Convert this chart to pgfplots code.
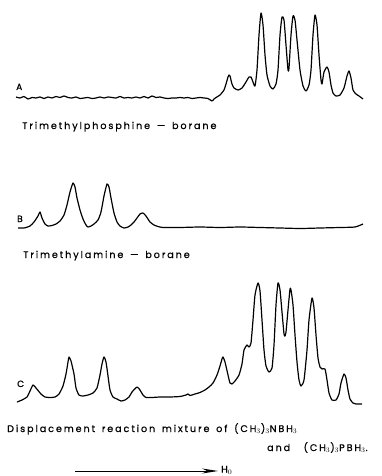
\documentclass[border=0pt]{standalone}
\usepackage{fontspec}
\setmainfont{Poppins}[LetterSpace=20.0, WordSpace=1.5, FakeBold=0.6]
\usepackage{pgfplots}
\pgfplotsset{compat=1.18}
\usetikzlibrary{arrows.meta}
\begin{document}
\begin{tikzpicture}
\begin{axis}[
  width=382pt, height=476pt, scale only axis,
  xmin=0, xmax=382, ymin=0, ymax=476, y dir=reverse,
  hide axis, clip=false,
]
\path (rel axis cs:0,0) rectangle (rel axis cs:1,1);
\pgfplotsset{spec/.style={black, no markers, line width=1.2pt, smooth, tension=0.35, line join=round}}
% Spectrum A
\addplot[spec] coordinates {
(16,97)(20,98)(24,96.5)(28,99)(32,97.5)(36,98)(40,97)(44,98.5)(48,97)(52,98)(56,96.5)(60,97.5)(64,96)(68,97.5)(72,98)(76,97)(80,98.5)(84,98)(88,97.5)(92,98.5)(96,98)(100,97)(104,98)(108,97)(112,97.5)(116,98)(120,96.5)(124,98)(128,97.5)(132,98)(136,97)(140,98)(144,96.5)(148,98)(152,96)(156,97.5)(160,97)(164,98)(168,98.5)(172,98)(176,98)(180,97.5)(184,98)(188,97.5)(192,98.5)(196,98)(200,97.5)(204,98)(208,98.5)(212,101)(214,99)(216,97.5)(220,95)(224,90)(226,84)(228,77)(229,75)(230,76)(232,84)(234,88)(238,90)(242,88)(246,82)(249,77)(251,77)(253,82)(255,86)(257,70)(259,35)(261,13)(263,25)(265,55)(267,75)(270,86)(273,89)(276,84)(278,70)(280,35)(282,17)(284,20)(286,45)(288,70)(289,68)(291,35)(293,16)(295,20)(297,40)(300,70)(303,86)(306,91)(309,85)(311,70)(313,35)(315,15)(317,25)(319,55)(321,80)(322,84)(324,72)(327,67)(329,72)(331,85)(333,93)(336,96)(340,95)(344,88)(347,76)(349,71)(351,78)(353,90)(356,94)(359,96)(363,99)
};
% Spectrum B
\addplot[spec] coordinates {
(18,228)(24,228)(30,226)(34,222)(38,216)(40,212)(42,218)(45,224)(48,226)(52,225.5)(56,224)(60,221)(64,215)(67,205)(70,192)(73,183)(75,187)(77,198)(80,210)(83,219)(86,225)(88,227)(91,226)(94,224)(98,220)(101,212)(104,196)(107,184)(109,187)(111,198)(114,213)(117,222)(120,226)(124,228)(128,227)(131,225)(134,222)(137,218)(140,214)(143,213)(146,216)(150,222)(154,225)(158,226.5)(163,227.5)(180,227.5)(200,227)(220,227.5)(240,227)(260,227.5)(280,228)(300,228.5)(320,228)(340,227.5)(355,227)(363,224)
};
% Spectrum C
\addplot[spec] coordinates {
(17,402)(22,400)(27,397)(30,391)(33,385)(36,388)(41,394)(45,397)(50,397.5)(55,397)(59,394)(63,386)(66,374)(68,362)(69,357)(71,361)(74,374)(76,388)(79,395)(83,396)(88,395)(93,393)(97,388)(100,375)(102,364)(104,357)(106,362)(108,376)(110,390)(113,397)(117,399)(121,401)(125,400)(129,397)(132,392)(137,387)(140,390)(143,395)(146,397.5)(152,397.5)(160,397)(170,397)(180,396.5)(186,395)(188,394)(190,395.5)(195,394)(200,392.5)(205,390)(209,387)(213,383)(217,375)(220,366)(222,359)(223,357)(225,362)(228,375)(230,383)(232,384)(235,381)(239,375)(242,364)(244,350)(247,345)(249,347)(251,343)(253,320)(255,295)(258,283)(260,291)(262,320)(264,350)(266,366)(269,372)(272,368)(274,345)(276,305)(278,283)(280,290)(282,312)(284,334)(285,336)(286,332)(288,310)(290,289)(291,290)(293,305)(295,335)(297,362)(299,380)(301,386)(304,380)(307,350)(309,320)(312,298)(314,308)(316,335)(318,358)(320,367)(322,369)(325,369)(327,380)(329,393)(332,400)(336,400)(339,394)(341,383)(344,374)(346,378)(348,390)(350,399)(353,403)(356,404)(362,404)
};
\node[font=\fontsize{9}{10}\selectfont, anchor=base west, inner sep=0pt] at (axis cs:16,90) {A};
\node[font=\fontsize{9}{10}\selectfont, anchor=base west, inner sep=0pt] at (axis cs:17,222) {B};
\node[font=\fontsize{9}{10}\selectfont, anchor=base west, inner sep=0pt] at (axis cs:17,387) {C};
\node[font=\fontsize{9.6}{11}\selectfont, anchor=base west, inner sep=0pt] at (axis cs:22,129) {Trimethylphosphine — borane};
\node[font=\fontsize{9.6}{11}\selectfont, anchor=base west, inner sep=0pt] at (axis cs:23,258) {Trimethylamine — borane};
\node[font=\fontsize{9.6}{11}\selectfont, anchor=base west, inner sep=0pt] at (axis cs:7,432) {Displacement reaction mixture of (CH$_3$)$_3$NBH$_3$};
\node[font=\fontsize{9.6}{11}\selectfont, anchor=base west, inner sep=0pt] at (axis cs:267,451) {and\ \ (CH$_3$)$_3$PBH$_3$.};
\draw[line width=1pt, -{Stealth[length=16pt,width=5pt]}] (axis cs:75,471) -- (axis cs:218,471);
\node[font=\fontsize{9.6}{11}\selectfont, anchor=west, inner sep=0pt] at (axis cs:221,470) {H$_0$};
\end{axis}
\end{tikzpicture}
\end{document}
